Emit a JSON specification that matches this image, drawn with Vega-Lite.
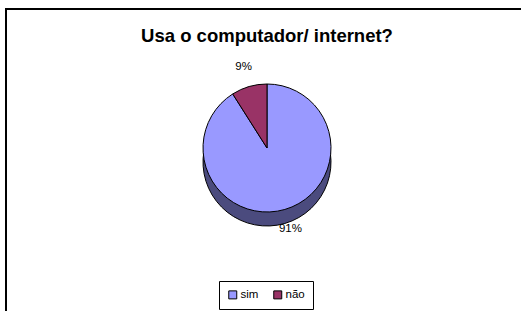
{
  "$schema": "https://vega.github.io/schema/vega-lite/v6.json",
  "width": 522,
  "height": 330,
  "autosize": {"type": "none"},
  "padding": {"left": 6, "top": 9, "right": 0, "bottom": 0},
  "background": "white",
  "view": {"stroke": "black", "strokeWidth": 2, "fill": "white"},
  "title": {
    "text": "Usa o computador/ internet?",
    "font": "Liberation Sans",
    "fontSize": 18.5,
    "fontWeight": "bold",
    "color": "black",
    "anchor": "middle",
    "baseline": "alphabetic",
    "offset": -51
  },
  "data": {
    "values": [
      {"resposta": "sim", "valor": 0.91},
      {"resposta": "não", "valor": 0.09}
    ]
  },
  "encoding": {
    "theta": {"field": "valor", "type": "quantitative", "stack": true},
    "order": {"field": "valor", "sort": "descending"}
  },
  "layer": [
    {
      "mark": {"type": "arc", "outerRadius": 64, "fill": "#4B4B7E", "stroke": "black", "strokeWidth": 1, "yOffset": -12}
    },
    {
      "mark": {"type": "arc", "outerRadius": 64, "stroke": "black", "strokeWidth": 1, "yOffset": -26},
      "encoding": {
        "color": {
          "field": "resposta",
          "type": "nominal",
          "scale": {"domain": ["sim", "não"], "range": ["#9999FF", "#993366"]},
          "legend": {
            "orient": "none",
            "legendX": 213,
            "legendY": 272,
            "direction": "horizontal",
            "title": null,
            "strokeColor": "black",
            "fillColor": "white",
            "padding": 8,
            "symbolType": "square",
            "symbolSize": 64,
            "symbolStrokeColor": "black",
            "symbolStrokeWidth": 1,
            "labelFont": "Liberation Sans",
            "labelFontSize": 11.5,
            "labelColor": "black",
            "labelOffset": 2,
            "columnPadding": 12
          }
        }
      }
    },
    {
      "mark": {"type": "text", "radius": 84, "font": "Liberation Sans", "fontSize": 11.5, "color": "black", "yOffset": -26},
      "encoding": {
        "text": {"field": "valor", "type": "quantitative", "format": ".0%"}
      }
    }
  ]
}
